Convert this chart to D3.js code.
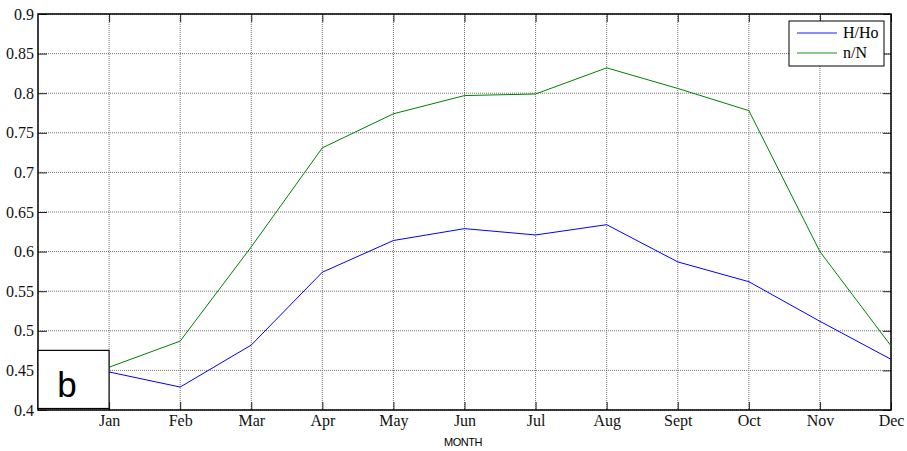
<!DOCTYPE html>
<html>
<head>
<meta charset="utf-8">
<script src="https://cdn.jsdelivr.net/npm/d3@7"></script>
<style>
  body { margin: 0; background: #fff; }
  svg { display: block; }
</style>
</head>
<body>
<div id="chart"></div>
<script>
// Data
var months = ['Jan', 'Feb', 'Mar', 'Apr', 'May', 'Jun', 'Jul', 'Aug', 'Sept', 'Oct', 'Nov', 'Dec']
var hHo = [0.448, 0.429, 0.482, 0.574, 0.614, 0.629, 0.621, 0.634, 0.587, 0.562, 0.512, 0.464]
var nN = [0.454, 0.487, 0.606, 0.731, 0.774, 0.797, 0.799, 0.832, 0.806, 0.778, 0.600, 0.481]
var yTicks = [0.4, 0.45, 0.5, 0.55, 0.6, 0.65, 0.7, 0.75, 0.8, 0.85, 0.9]
var seriesNames = ['H/Ho', 'n/N']
var seriesColors = ['#0000ff', '#008000']

var width = 907
var height = 451
var margin = {top: 14, right: 16, bottom: 41, left: 38}
var w = width - margin.left - margin.right
var h = height - margin.top - margin.bottom
var serif = '"Liberation Serif", "Times New Roman", serif'

var svg = d3.select('#chart').append('svg')
    .attr('width', width)
    .attr('height', height)

var g = svg.append('g')
    .attr('transform', 'translate(' + margin.left + ',' + margin.top + ')')

var x = d3.scaleLinear().domain([0, 12]).range([0, w])
var y = d3.scaleLinear().domain([0.4, 0.9]).range([h, 0])
var xIdx = d3.range(1, 13)

// Grid
g.selectAll('line.gx')
    .data(xIdx)
  .enter().append('line')
    .attr('class', 'gx')
    .attr('x1', function(d){ return x(d) })
    .attr('x2', function(d){ return x(d) })
    .attr('y1', 0)
    .attr('y2', h)
    .style('stroke', '#707070')
    .style('stroke-dasharray', '1,1')
g.selectAll('line.gy')
    .data(yTicks)
  .enter().append('line')
    .attr('class', 'gy')
    .attr('x1', 0)
    .attr('x2', w)
    .attr('y1', function(d){ return y(d) })
    .attr('y2', function(d){ return y(d) })
    .style('stroke', '#707070')
    .style('stroke-dasharray', '1,1')

// Axes with inward ticks on all four sides
g.append('g')
    .attr('transform', 'translate(0,' + h + ')')
    .call(d3.axisBottom(x).tickValues(xIdx).tickSizeInner(-8).tickSizeOuter(0)
      .tickFormat(function(d){ return months[d - 1] }).tickPadding(5))
g.append('g')
    .call(d3.axisTop(x).tickValues(xIdx).tickSizeInner(-8).tickSizeOuter(0).tickFormat(''))
g.append('g')
    .call(d3.axisLeft(y).tickValues(yTicks).tickSizeInner(-9).tickSizeOuter(0)
      .tickFormat(d3.format('')).tickPadding(4))
g.append('g')
    .attr('transform', 'translate(' + w + ',0)')
    .call(d3.axisRight(y).tickValues(yTicks).tickSizeInner(-8).tickSizeOuter(0).tickFormat(''))

g.selectAll('.domain').remove()
g.selectAll('.tick line').style('stroke', '#222')
g.selectAll('.tick text')
    .style('font-family', serif)
    .style('font-size', '16px')
    .attr('fill', '#111')

// Frame
g.append('rect')
    .attr('width', w)
    .attr('height', h)
    .style('fill', 'none')
    .style('stroke', '#000')
    .style('stroke-width', 1.5)

// Lines
var line = d3.line()
    .x(function(d, i){ return x(i + 1) })
    .y(function(d){ return y(d) })
;[hHo, nN].forEach(function(vals, k){
  g.append('path')
      .datum(vals)
      .attr('d', line)
      .style('fill', 'none')
      .style('stroke', seriesColors[k])
      .style('stroke-width', 1)
})

// "b" box
g.append('rect')
    .attr('x', 0)
    .attr('y', y(0.4753))
    .attr('width', x(1))
    .attr('height', h - y(0.4753) - 1.5)
    .style('fill', '#fff')
    .style('stroke', '#000')
    .style('stroke-width', 1.2)
g.append('text')
    .attr('x', 29)
    .attr('y', h - 13)
    .text('b')
    .style('text-anchor', 'middle')
    .style('font-family', '"Liberation Sans", Arial, sans-serif')
    .style('font-size', '35px')
    .attr('fill', '#000')

// Legend
var leg = g.append('g').attr('transform', 'translate(' + (w - 102) + ',7)')
leg.append('rect')
    .attr('width', 95)
    .attr('height', 45)
    .style('fill', '#fff')
    .style('stroke', '#000')
    .style('stroke-width', 1)
seriesNames.forEach(function(name, k){
  leg.append('line')
      .attr('x1', 8)
      .attr('x2', 48)
      .attr('y1', 12 + k * 20)
      .attr('y2', 12 + k * 20)
      .style('stroke', seriesColors[k])
      .style('stroke-opacity', 0.6)
      .style('stroke-width', 1.5)
  leg.append('text')
      .attr('x', 54)
      .attr('y', 17 + k * 20)
      .text(name)
      .style('font-family', serif)
      .style('font-size', '16px')
      .attr('fill', '#000')
})

// Axis title
svg.append('text')
    .attr('x', 463)
    .attr('y', 446)
    .text('MONTH')
    .style('text-anchor', 'middle')
    .style('font-family', '"Liberation Sans", Arial, sans-serif')
    .style('font-size', '11px')
    .style('letter-spacing', '-0.5px')
    .attr('fill', '#000')
</script>
</body>
</html>
